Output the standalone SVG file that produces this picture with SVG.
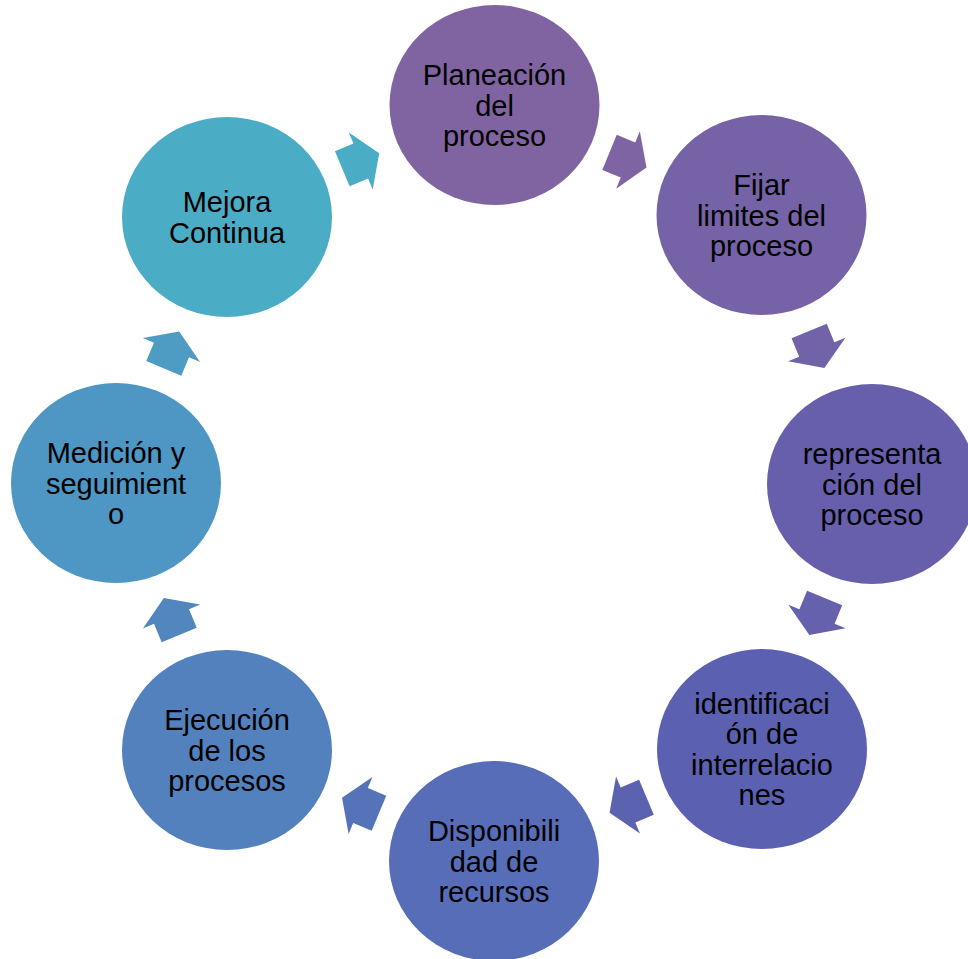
<svg xmlns="http://www.w3.org/2000/svg" width="968" height="959" viewBox="0 0 968 959">
  <style>
    .lbl { font-family: "Liberation Sans", Arial, sans-serif; font-size: 29px; fill: #000000; text-anchor: middle; }
  </style>
  <defs>
    <polygon id="arr" points="-20,-19 0,-19 0,-31 20,0 0,31 0,19 -20,19"/>
  </defs>
  <rect width="968" height="959" fill="#ffffff"/>
  <g id="connectors">
    <use href="#arr" transform="translate(628,160) rotate(22.4)" fill="#7E64A3"/>
    <use href="#arr" transform="translate(816.75,349.5) rotate(67.7)" fill="#7262A7"/>
    <use href="#arr" transform="translate(817,616.5) rotate(112.5)" fill="#6561AC"/>
    <use href="#arr" transform="translate(628,805) rotate(157.3)" fill="#5B63B1"/>
    <use href="#arr" transform="translate(360.5,805.5) rotate(202.6)" fill="#5673BA"/>
    <use href="#arr" transform="translate(171.5,616.5) rotate(247.4)" fill="#5186BF"/>
    <use href="#arr" transform="translate(171.5,350) rotate(292.7)" fill="#4E9BC4"/>
    <use href="#arr" transform="translate(360.75,161) rotate(-22.7)" fill="#4BACC6"/>
  </g>
  <g id="n1">
    <ellipse cx="494.5" cy="105" rx="105" ry="100" fill="#8064A2"/>
    <text class="lbl"><tspan x="494.5" y="85">Planeación</tspan><tspan x="494.5" y="115.5">del</tspan><tspan x="494.5" y="146">proceso</tspan></text>
  </g>
  <g id="n2">
    <ellipse cx="761.5" cy="215" rx="105" ry="100" fill="#7662A6"/>
    <text class="lbl"><tspan x="761.5" y="195">Fijar</tspan><tspan x="761.5" y="225.5">limites del</tspan><tspan x="761.5" y="256">proceso</tspan></text>
  </g>
  <g id="n3">
    <ellipse cx="872" cy="484" rx="105" ry="100" fill="#675FAB"/>
    <text class="lbl"><tspan x="872" y="464">representa</tspan><tspan x="872" y="494.5">ción del</tspan><tspan x="872" y="525">proceso</tspan></text>
  </g>
  <g id="n4">
    <ellipse cx="762" cy="749" rx="105" ry="100" fill="#5B60B0"/>
    <text class="lbl"><tspan x="762" y="713.75">identificaci</tspan><tspan x="762" y="744.25">ón de</tspan><tspan x="762" y="774.75">interrelacio</tspan><tspan x="762" y="805.25">nes</tspan></text>
  </g>
  <g id="n5">
    <ellipse cx="494" cy="861" rx="105" ry="100" fill="#576DB7"/>
    <text class="lbl"><tspan x="494" y="841">Disponibili</tspan><tspan x="494" y="871.5">dad de</tspan><tspan x="494" y="902">recursos</tspan></text>
  </g>
  <g id="n6">
    <ellipse cx="227" cy="750" rx="105" ry="100" fill="#5281BE"/>
    <text class="lbl"><tspan x="227" y="730">Ejecución</tspan><tspan x="227" y="760.5">de los</tspan><tspan x="227" y="791">procesos</tspan></text>
  </g>
  <g id="n7">
    <ellipse cx="116" cy="483" rx="105" ry="100" fill="#4E96C3"/>
    <text class="lbl"><tspan x="116" y="463">Medición y</tspan><tspan x="116" y="493.5">seguimient</tspan><tspan x="116" y="524">o</tspan></text>
  </g>
  <g id="n8">
    <ellipse cx="227" cy="217" rx="105" ry="100" fill="#4BACC6"/>
    <text class="lbl"><tspan x="227" y="212">Mejora</tspan><tspan x="227" y="242.5">Continua</tspan></text>
  </g>
</svg>
